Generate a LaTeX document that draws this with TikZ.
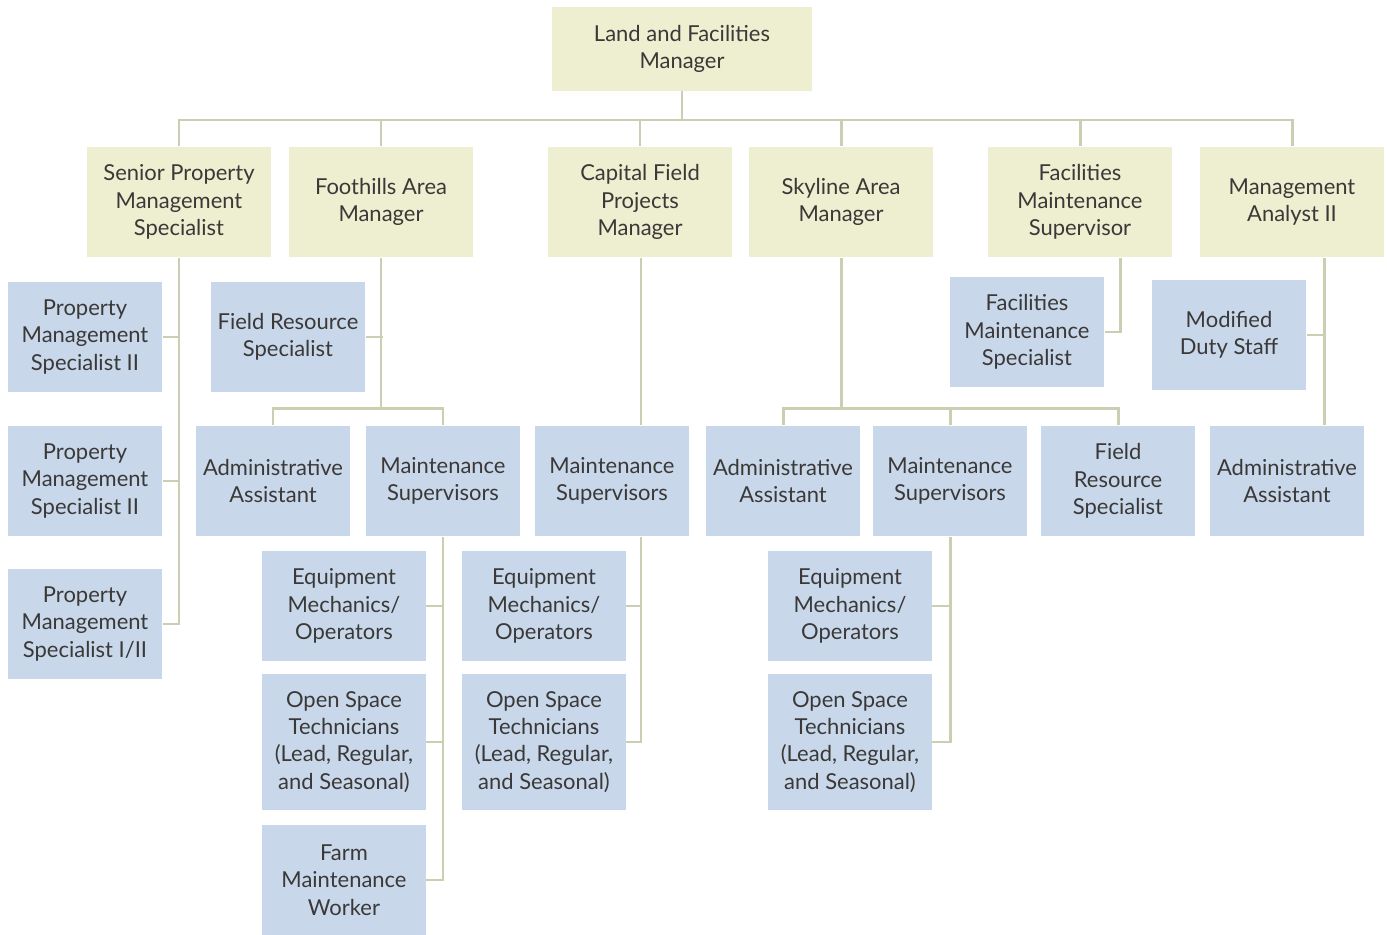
\documentclass[tikz,border=0pt]{standalone}
\usepackage{fontspec}
\setmainfont{Lato}
\usepackage{tikz}
\usetikzlibrary{positioning, calc}
\definecolor{chart_khaki}{HTML}{EDEFD0}
\definecolor{chart_blue}{HTML}{C8D8EA}
\definecolor{chart_line}{HTML}{C9D0B2}
\definecolor{chart_text}{HTML}{3B3838}
\tikzset{
  box/.style={rectangle,inner sep=0pt,align=center,text=chart_text,font=\fontsize{12.5}{15.5}\selectfont},
  head/.style={box,fill=chart_khaki,minimum width=3.68cm,minimum height=2.22cm},
  boss/.style={head,minimum width=5.2cm,minimum height=1.68cm},
  staff/.style={box,fill=chart_blue,minimum width=3.1cm,minimum height=2.22cm},
  crew/.style={staff,minimum width=3.28cm},
  link/.style={draw=chart_line,line width=1.7pt},
}
\pgfdeclarelayer{back}
\pgfsetlayers{back,main}
\begin{document}
\begin{tikzpicture}[x=0.02cm,y=-0.02cm]
	    \useasboundingbox (0,0) rectangle (1387,935);
	    % top
	    \node[boss] (LFM) at (682,49) {Land and Facilities\\Manager};
	    % second row
	    \node[head] (SPM) at (179,202) {Senior Property\\Management\\Specialist};
	    \node[head] (FAM) at (381,202) {Foothills Area\\Manager};
	    \node[head] (CFP) at (640,202) {Capital Field\\Projects\\Manager};
	    \node[head] (SAM) at (841,202) {Skyline Area\\Manager};
	    \node[head] (FMS) at (1080,202) {Facilities\\Maintenance\\Supervisor};
	    \node[head] (MAN) at (1292,202) {Management\\Analyst II};
	    % property management
	    \node[staff] (PM1) at (85,337) {Property\\Management\\Specialist II};
	    \node[staff] (PM2) at (85,481) {Property\\Management\\Specialist II};
	    \node[staff] (PM3) at (85,624) {Property\\Management\\Specialist I/II};
	    % foothills
	    \node[staff] (FFR) at (288,337) {Field Resource\\Specialist};
	    \node[staff] (FAA) at (273,481) {Administrative\\Assistant};
	    \node[staff] (FMT) at (443,481) {Maintenance\\Supervisors};
	    \node[crew] (FEQ) at (344,606) {Equipment\\Mechanics/\\Operators};
	    \node[crew,minimum height=2.74cm] (FOS) at (344,742) {Open Space\\Technicians\\(Lead, Regular,\\and Seasonal)};
	    \node[crew] (FFW) at (344,880) {Farm\\Maintenance\\Worker};
	    % capital
	    \node[staff] (CMT) at (612,481) {Maintenance\\Supervisors};
	    \node[crew] (CEQ) at (544,606) {Equipment\\Mechanics/\\Operators};
	    \node[crew,minimum height=2.74cm] (COS) at (544,742) {Open Space\\Technicians\\(Lead, Regular,\\and Seasonal)};
	    % skyline
	    \node[staff] (SAA) at (783,481) {Administrative\\Assistant};
	    \node[staff] (SMT) at (950,481) {Maintenance\\Supervisors};
	    \node[staff] (SFR) at (1118,481) {Field\\Resource\\Specialist};
	    \node[crew] (SEQ) at (850,606) {Equipment\\Mechanics/\\Operators};
	    \node[crew,minimum height=2.74cm] (SOS) at (850,742) {Open Space\\Technicians\\(Lead, Regular,\\and Seasonal)};
	    % facilities / analyst
	    \node[staff] (FSP) at (1027,332) {Facilities\\Maintenance\\Specialist};
	    \node[staff] (MDS) at (1229,335) {Modified\\Duty Staff};
	    \node[staff] (MAA) at (1287,481) {Administrative\\Assistant};
	    % connectors
	    \begin{pgfonlayer}{back}
	    \coordinate (BUS) at (0,120);
	    \coordinate (CX) at (641,0);
	    \coordinate (FX) at (1120,0);
	    \coordinate (MX) at (1324,0);
	    \draw[link] (LFM.south) -- (LFM.south |- BUS);
	    \draw[link] (SPM.north) -- (SPM.north |- BUS) -- (MAN.north |- BUS) -- (MAN.north);
	    \draw[link] (FAM.north) -- (FAM.north |- BUS);
	    \draw[link] (CFP.north) -- (CFP.north |- BUS);
	    \draw[link] (SAM.north) -- (SAM.north |- BUS);
	    \draw[link] (FMS.north) -- (FMS.north |- BUS);
	    % property management
	    \draw[link] (SPM.south) |- (PM3.east);
	    \draw[link] (PM1.east) -- (PM1.east -| SPM.south);
	    \draw[link] (PM2.east) -- (PM2.east -| SPM.south);
	    % foothills
	    \draw[link] (FAM.south) -- ++(0,151);
	    \draw[link] (FAA.north) -- ++(0,-17) -| (FMT.north);
	    \draw[link] (FFR.east) -- ++(17,0);
	    \draw[link] (FMT.south) |- (FFW.east);
	    \draw[link] (FEQ.east) -- (FEQ.east -| FMT.south);
	    \draw[link] (FOS.east) -- (FOS.east -| FMT.south);
	    % capital
	    \draw[link] (CX |- CFP.south) -- (CX |- CMT.north);
	    \draw[link] (CX |- CMT.south) |- (COS.east);
	    \draw[link] (CEQ.east) -- (CEQ.east -| CX);
	    % skyline
	    \draw[link] (SAM.south) -- ++(0,151);
	    \draw[link] (SAA.north) -- ++(0,-17) -| (SFR.north);
	    \draw[link] (SMT.north) -- ++(0,-17);
	    \draw[link] (SMT.south) |- (SOS.east);
	    \draw[link] (SEQ.east) -- (SEQ.east -| SMT.south);
	    % facilities / analyst
	    \draw[link] (FX |- FMS.south) |- (FSP.east);
	    \draw[link] (MX |- MAN.south) -- (MX |- MAA.north);
	    \draw[link] (MDS.east) -- (MDS.east -| MX);
	    \end{pgfonlayer}
	\end{tikzpicture}
\end{document}
